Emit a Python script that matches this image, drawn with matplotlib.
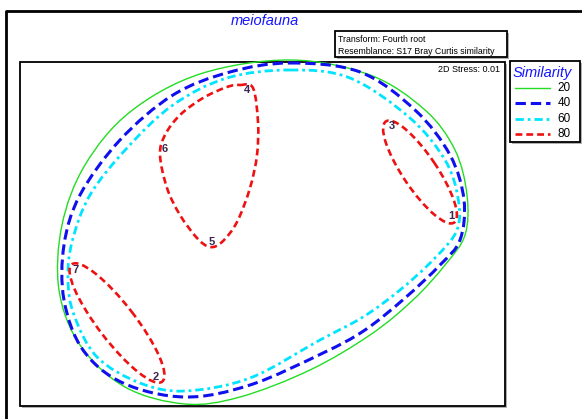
import numpy as np
import matplotlib
matplotlib.use("Agg")
import matplotlib.pyplot as plt
from matplotlib.path import Path
from matplotlib.patches import PathPatch, Ellipse, Rectangle
from matplotlib.lines import Line2D

plt.rcParams['font.family'] = ['Liberation Sans', 'DejaVu Sans']

# --- nMDS sample scores (plot units) ---
sample_labels = ['1', '2', '3', '4', '5', '6', '7']
sample_x = [451, 156, 392, 247, 212, 165, 76]
sample_y = [216, 377, 126, 90, 242, 149, 270]

# --- similarity contour outlines (closed, smooth) ---
sim20_x = [290, 370, 425, 455, 467, 465, 445, 413, 370, 310, 240, 185, 125, 80, 59, 62, 85, 130, 200]
sim20_y = [60, 75, 110, 150, 195, 235, 265, 300, 335, 370, 397, 404, 387, 345, 290, 225, 165, 112, 74]

sim40_x = [290, 360, 415, 450, 464, 460, 440, 405, 365, 323, 250, 185, 123, 83, 64, 64, 80, 120, 173, 230]
sim40_y = [63, 72, 110, 155, 200, 240, 265, 298, 330, 353, 385, 397, 383, 350, 300, 245, 195, 140, 95, 72]

sim60_x = [290, 350, 410, 445, 458, 457, 435, 400, 363, 320, 250, 185, 140, 97, 74, 68, 72, 90, 127, 173, 227]
sim60_y = [70, 78, 118, 160, 198, 230, 258, 290, 317, 340, 378, 391, 383, 357, 315, 280, 242, 195, 148, 105, 78]

# 80% groups: samples 4-5-6 outline, and two elongated groups (7,2) and (3,1)
sim80_tri_x = [240, 253, 258, 257, 250, 237, 222, 210, 197, 180, 167, 160, 165, 180, 203, 227]
sim80_tri_y = [85, 88, 122, 155, 188, 222, 242, 247, 238, 215, 188, 155, 135, 115, 98, 87]
# ellipse groups: centre x, centre y, major, minor, angle
sim80_ell = [(117, 323, 148, 37, 52.4), (420, 172, 122, 34, 56.0)]

levels = ['20', '40', '60', '80']
level_colors = ['#22dd22', '#1010ee', '#00e5ff', '#ee1111']
level_widths = [1.0, 2.2, 2.0, 1.9]
level_styles = ['-', (0, (3.4, 1.6)), (0, (3.0, 1.4, 1.0, 1.4)), (0, (2.6, 1.5))]

W, H = 582, 419
fig = plt.figure(figsize=(W / 100, H / 100), dpi=100)


def fx(x):
    return x / W


def fy(y):
    return 1 - y / H


def smooth_closed(xs, ys):
    P = np.column_stack([xs, ys]).astype(float)
    n = len(P)
    verts = [P[0]]
    codes = [Path.MOVETO]
    for i in range(n):
        p0, p1, p2, p3 = P[i - 1], P[i], P[(i + 1) % n], P[(i + 2) % n]
        verts += [p1 + (p2 - p0) / 6, p2 - (p3 - p1) / 6, p2]
        codes += [Path.CURVE4] * 3
    return Path(verts, codes)


def fig_box(x0, y0, x1, y1, lw=1.2, shadow=True):
    if shadow:
        fig.add_artist(Rectangle((fx(x0 + 2), fy(y1 + 2)), (x1 - x0) / W, (y1 - y0) / H,
                                 transform=fig.transFigure, fill=True, fc='#b0b0b0', ec='none', zorder=0))
    fig.add_artist(Rectangle((fx(x0), fy(y1)), (x1 - x0) / W, (y1 - y0) / H,
                             transform=fig.transFigure, fill=True, fc='white', ec='black', lw=lw, zorder=1))


# outer frame (left and top edges)
fig.add_artist(Line2D([fx(6), fx(6), 1.0], [0.0, fy(11), fy(11)], transform=fig.transFigure,
                      color='black', lw=2.0))

fig.text(fx(265), fy(21), 'meiofauna', color='#1414ff', style='italic', fontsize=10.5,
         ha='center', va='center')

# info box
fig_box(335, 31, 507, 57, lw=1.3)
fig.text(fx(338), fy(39), 'Transform: Fourth root', fontsize=6.3, ha='left', va='center', zorder=3)
fig.text(fx(338), fy(51), 'Resemblance: S17 Bray Curtis similarity', fontsize=6.3, ha='left', va='center', zorder=3)

# ordination panel
fig_box(20, 62, 505, 406, lw=1.3)
ax = fig.add_axes([fx(20), fy(406), (505 - 20) / W, (406 - 62) / H], zorder=2)
ax.patch.set_alpha(0)
ax.set_xlim(20, 505)
ax.set_ylim(406, 62)
ax.axis('off')

outlines = [(sim20_x, sim20_y), (sim40_x, sim40_y), (sim60_x, sim60_y)]
for (xs, ys), c, lw, ls in zip(outlines, level_colors[:3], level_widths[:3], level_styles[:3]):
    ax.add_patch(PathPatch(smooth_closed(xs, ys), fill=False, ec=c, lw=lw, ls=ls, clip_on=False))

ax.add_patch(PathPatch(smooth_closed(sim80_tri_x, sim80_tri_y), fill=False, ec=level_colors[3],
                       lw=level_widths[3], ls=level_styles[3]))
for cx, cy, a, b, ang in sim80_ell:
    ax.add_patch(Ellipse((cx, cy), a, b, angle=ang, fill=False, ec=level_colors[3],
                         lw=level_widths[3], ls=level_styles[3]))

for lab, x, y in zip(sample_labels, sample_x, sample_y):
    ax.text(x, y, lab, color='#3a2650', fontsize=8, fontweight='bold', ha='center', va='center')

fig.text(fx(500), fy(70), '2D Stress: 0.01', fontsize=6.5, ha='right', va='center', zorder=3)

# legend
fig_box(510, 61, 580, 142, lw=1.3)
lax = fig.add_axes([fx(510), fy(142), 70 / W, 81 / H], zorder=2)
lax.patch.set_alpha(0)
lax.set_xlim(510, 580)
lax.set_ylim(142, 61)
lax.axis('off')
lax.text(513, 73, 'Similarity', color='#1414ff', style='italic', fontsize=10.5, ha='left', va='center')
for i, (lev, c, lw, ls) in enumerate(zip(levels, level_colors, level_widths, level_styles)):
    yy = 88 + i * 15.3
    lax.plot([515, 550], [yy, yy], color=c, lw=lw, ls=ls)
    lax.text(571, yy, lev, fontsize=8.5, ha='right', va='center')

fig.savefig('out.png', dpi=100)
